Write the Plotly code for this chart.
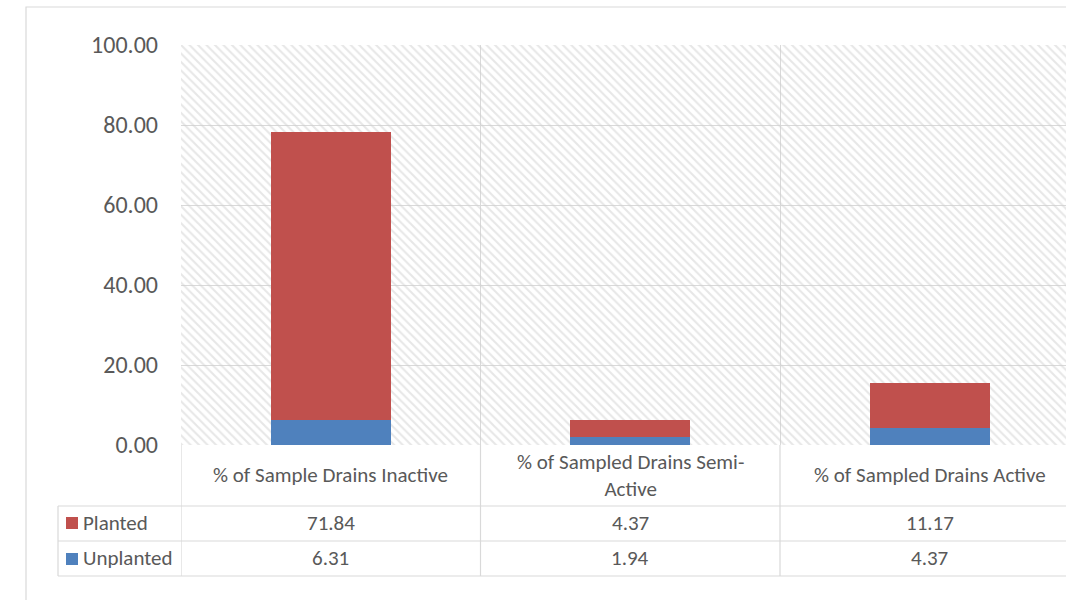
import plotly.graph_objects as go

# Data
categories = [
    "% of Sample Drains Inactive",
    "% of Sampled Drains Semi-<br>Active",
    "% of Sampled Drains Active",
]
planted = [71.84, 4.37, 11.17]
unplanted = [6.31, 1.94, 4.37]
y_ticks = [0, 20, 40, 60, 80, 100]

RED = "#C0504D"
BLUE = "#4F81BD"
GRID = "#D9D9D9"
TEXT = "#595959"
FONT = "Calibri, Carlito, Lato, sans-serif"

# figure geometry (pixels)
FIG_W, FIG_H = 1066, 600
L, R, T, B = 181, 0, 45, 155
PW, PH = FIG_W - L - R, FIG_H - T - B


def px_x(px):
    return (px - L) / PW


def px_y(py):
    return (FIG_H - B - py) / PH


xs = list(range(len(categories)))
frame_top = [y_ticks[-1]] * len(categories)

fig = go.Figure()

# hatched plot background, one cell per category
fig.add_trace(go.Bar(
    x=xs, y=frame_top, base=0, width=1,
    marker=dict(color="rgba(0,0,0,0)", line=dict(width=0),
                pattern=dict(shape="\\", fgcolor="#CFCFCF", bgcolor="rgba(0,0,0,0)",
                             size=6, solidity=0.35)),
    hoverinfo="skip", showlegend=False,
))

fig.add_trace(go.Bar(
    x=xs, y=unplanted, base=0, width=0.4, name="Unplanted",
    marker=dict(color=BLUE, line=dict(width=0)), showlegend=False,
))
fig.add_trace(go.Bar(
    x=xs, y=planted, base=unplanted, width=0.4, name="Planted",
    marker=dict(color=RED, line=dict(width=0)), showlegend=False,
))

shapes = []
line = dict(color=GRID, width=1.2)

# outer chart border
shapes.append(dict(type="rect", xref="paper", yref="paper",
                   x0=px_x(26), x1=px_x(1080), y0=px_y(7), y1=px_y(610),
                   line=dict(color=GRID, width=1.2), fillcolor="rgba(0,0,0,0)"))

# data table rules
row_lines = [506, 541, 576]
for py in row_lines:
    shapes.append(dict(type="line", xref="paper", yref="paper",
                       x0=px_x(58), x1=1.0, y0=px_y(py), y1=px_y(py), line=line))
for xb in [-0.5, 0.5, 1.5]:
    shapes.append(dict(type="line", xref="x", yref="paper",
                       x0=xb, x1=xb, y0=0, y1=px_y(576), line=line))
shapes.append(dict(type="line", xref="paper", yref="paper",
                   x0=px_x(58), x1=px_x(58), y0=px_y(506), y1=px_y(576), line=line))

# legend keys
for color, (top, bot) in [(RED, (517, 529)), (BLUE, (553, 565))]:
    shapes.append(dict(type="rect", xref="paper", yref="paper",
                       x0=px_x(66), x1=px_x(78), y0=px_y(bot), y1=px_y(top),
                       fillcolor=color, line=dict(width=0)))

annotations = []
tfont = dict(family=FONT, size=21, color=TEXT)
for i, name in enumerate(categories):
    annotations.append(dict(x=i, y=px_y(475), xref="x", yref="paper", text=name,
                            showarrow=False, font=tfont, xanchor="center", yanchor="middle"))
    annotations.append(dict(x=i, y=px_y(523), xref="x", yref="paper",
                            text=f"{planted[i]:.2f}", showarrow=False, font=tfont,
                            xanchor="center", yanchor="middle"))
    annotations.append(dict(x=i, y=px_y(558), xref="x", yref="paper",
                            text=f"{unplanted[i]:.2f}", showarrow=False, font=tfont,
                            xanchor="center", yanchor="middle"))
for label, py in [("Planted", 523), ("Unplanted", 558)]:
    annotations.append(dict(x=px_x(81), y=px_y(py), xref="paper", yref="paper", text=label,
                            showarrow=False, font=tfont, xanchor="left", yanchor="middle"))

fig.update_layout(
    width=FIG_W, height=FIG_H,
    margin=dict(l=L, r=R, t=T, b=B),
    paper_bgcolor="white", plot_bgcolor="white",
    barmode="overlay", bargap=0,
    shapes=shapes, annotations=annotations,
    showlegend=False,
    xaxis=dict(range=[-0.5, -0.5 + PW / 299.5], tickvals=[-0.5, 0.5, 1.5, 2.5],
               showticklabels=False, showgrid=True, gridcolor=GRID, gridwidth=1.2,
               zeroline=False, showline=False, ticks=""),
    yaxis=dict(range=[0, 100], tickvals=y_ticks, tickformat=".2f",
               showgrid=True, gridcolor=GRID, gridwidth=1.2, zeroline=False,
               showline=False, ticks="", ticklabelstandoff=22,
               tickfont=dict(family=FONT, size=24, color=TEXT)),
)

fig.write_html("out.html")
